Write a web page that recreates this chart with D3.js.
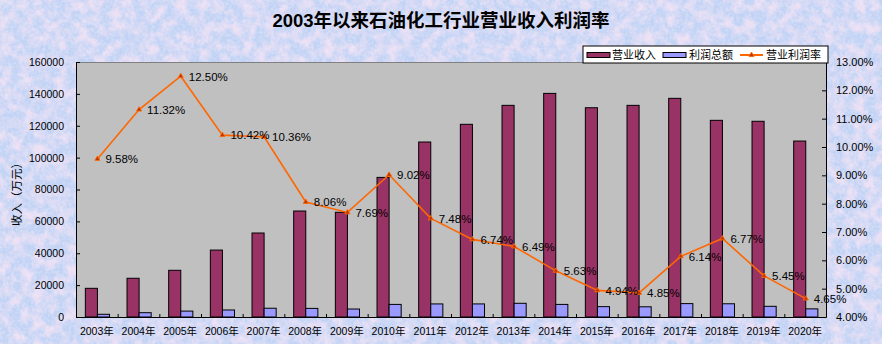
<!DOCTYPE html>
<html><head><meta charset="utf-8">
<script src="https://cdn.jsdelivr.net/npm/d3@7/dist/d3.min.js"></script>
<style>
html,body{margin:0;padding:0;background:#c6d6f4;}
svg{display:block;}
text{font-family:"Liberation Sans","Noto Sans CJK SC",Arial,sans-serif;}
</style></head>
<body>
<svg id="chart" width="882" height="344"></svg>
<script>
const years = ["2003年","2004年","2005年","2006年","2007年","2008年","2009年","2010年","2011年","2012年","2013年","2014年","2015年","2016年","2017年","2018年","2019年","2020年"];
const revenue = [18000,24300,29300,42000,52700,66500,65700,87600,109800,120900,132800,140300,131300,132800,137200,123400,122800,110400];
const profit = [1700,2700,3700,4400,5500,5400,5000,7900,8200,8200,8600,7900,6500,6400,8400,8300,6700,5100];
const rate = [9.58,11.32,12.50,10.42,10.36,8.06,7.69,9.02,7.48,6.74,6.49,5.63,4.94,4.85,6.14,6.77,5.45,4.65];
const leftTicks = [0,20000,40000,60000,80000,100000,120000,140000,160000];
const rightTicks = [4,5,6,7,8,9,10,11,12,13];
const seriesNames = ["营业收入","利润总额","营业利润率"];
const titleText = "2003年以来石油化工行业营业收入利润率";
const yTitle = "收入（万元）";

const svg = d3.select("#chart");
const W = 882, H = 344;
const P = {l:76, r:826, t:62, b:317};

// background texture
const defs = svg.append("defs");
const f = defs.append("filter").attr("id","tex").attr("x",0).attr("y",0).attr("width","100%").attr("height","100%");
f.append("feTurbulence").attr("type","fractalNoise").attr("baseFrequency","0.09").attr("numOctaves",3).attr("seed",7).attr("result","n");
f.append("feColorMatrix").attr("in","n").attr("type","matrix")
  .attr("values","0 0 0 0 0.85  0 0 0 0 0.74  0 0 0 0 0.90  2.4 0 0 0 -0.85");
const f2 = defs.append("filter").attr("id","tex2").attr("x",0).attr("y",0).attr("width","100%").attr("height","100%");
f2.append("feTurbulence").attr("type","fractalNoise").attr("baseFrequency","0.35").attr("numOctaves",2).attr("seed",3).attr("result","n");
f2.append("feColorMatrix").attr("in","n").attr("type","matrix")
  .attr("values","0 0 0 0 0.84  0 0 0 0 0.91  0 0 0 0 1  1.6 0 0 0 -0.6");
svg.append("rect").attr("width",W).attr("height",H).attr("fill","#c2d2f4");
svg.append("rect").attr("width",W).attr("height",H).attr("filter","url(#tex)");
svg.append("rect").attr("width",W).attr("height",H).attr("filter","url(#tex2)").attr("opacity",0.5);

// scales
const x = d3.scaleBand().domain(years).range([P.l,P.r]).padding(0);
const yL = d3.scaleLinear().domain([0,160000]).range([P.b,P.t]);
const yR = d3.scaleLinear().domain([4,13]).range([P.b,P.t]);

// plot area
svg.append("rect").attr("x",P.l).attr("y",P.t).attr("width",P.r-P.l).attr("height",P.b-P.t).attr("fill","#c0c0c0");
svg.append("line").attr("x1",P.l).attr("x2",P.r).attr("y1",P.t+0.5).attr("y2",P.t+0.5).attr("stroke","#808080");

// bars
const bw = x.bandwidth()*0.29;
const cx = d => x(d) + x.bandwidth()/2 + 0.6;
svg.append("g").selectAll("rect").data(years).join("rect")
  .attr("x",(d)=>cx(d)-bw).attr("width",bw)
  .attr("y",(d,i)=>yL(revenue[i])).attr("height",(d,i)=>P.b-yL(revenue[i]))
  .attr("fill","#993366").attr("stroke","#000").attr("stroke-width",1);
svg.append("g").selectAll("rect").data(years).join("rect")
  .attr("x",(d)=>cx(d)).attr("width",bw)
  .attr("y",(d,i)=>yL(profit[i])).attr("height",(d,i)=>P.b-yL(profit[i]))
  .attr("fill","#9999ff").attr("stroke","#000").attr("stroke-width",1);

// axes
const gL = svg.append("g").attr("transform",`translate(${P.l},0)`)
  .call(d3.axisLeft(yL).tickValues(leftTicks).tickFormat(d3.format("d")).tickSizeInner(-4).tickSizeOuter(0).tickPadding(12));
const gR = svg.append("g").attr("transform",`translate(${P.r},0)`)
  .call(d3.axisRight(yR).tickValues(rightTicks).tickFormat(d=>d.toFixed(2)+"%").tickSizeInner(-4).tickSizeOuter(0).tickPadding(10));
const gB = svg.append("g").attr("transform",`translate(0,${P.b})`)
  .call(d3.axisBottom(x).tickSize(0).tickPadding(11));
[gL,gR,gB].forEach(g=>{
  g.selectAll("text").attr("font-size","10.5px").attr("fill","#000").attr("font-family",'"Liberation Sans","Noto Sans CJK SC",sans-serif');
  g.selectAll("line").attr("stroke","#000");
  g.select(".domain").attr("stroke","#000");
});
gR.selectAll("text").attr("font-size","11px");
// category boundary ticks
svg.append("g").selectAll("line").data(years.slice(1)).join("line")
  .attr("x1",d=>x(d)+0.5).attr("x2",d=>x(d)+0.5).attr("y1",P.b).attr("y2",P.b-3).attr("stroke","#000");

// line
const line = d3.line().x((d,i)=>cx(years[i])).y(d=>yR(d));
svg.append("path").datum(rate).attr("d",line).attr("fill","none").attr("stroke","#ff6600").attr("stroke-width",1.6);
const tri = d3.symbol().type(d3.symbolTriangle).size(11);
svg.append("g").selectAll("path").data(rate).join("path")
  .attr("d",tri).attr("transform",(d,i)=>`translate(${cx(years[i])},${yR(d)})`)
  .attr("fill","#b83300").attr("stroke","#ff6600").attr("stroke-width",0.9);
svg.append("g").selectAll("text").data(rate).join("text")
  .attr("x",(d,i)=>cx(years[i])+8).attr("y",d=>yR(d)).attr("dy","0.38em")
  .attr("font-size","11.5px").attr("fill","#000")
  .text(d=>d.toFixed(2)+"%");

// title
svg.append("text").attr("x",441).attr("y",27).attr("text-anchor","middle")
  .attr("font-size","18.5px").attr("font-weight","bold").attr("fill","#000")
  .attr("font-family",'"Liberation Sans","Noto Sans CJK SC",sans-serif').text(titleText);

// y title
svg.append("text").attr("transform",`translate(17,${(P.t+P.b)/2+2}) rotate(-90)`).attr("text-anchor","middle")
  .attr("dy","0.35em").attr("font-size","11.5px").attr("fill","#000")
  .attr("font-family",'"Noto Sans CJK SC",sans-serif').text(yTitle);

// legend
const lg = svg.append("g");
lg.append("rect").attr("x",583).attr("y",46).attr("width",245).attr("height",17).attr("fill","#fff").attr("stroke","#000");
const lx = [587,663,740];
const tx = [612,689,766];
lg.append("rect").attr("x",lx[0]).attr("y",52.5).attr("width",23).attr("height",5).attr("fill","#993366").attr("stroke","#000");
lg.append("rect").attr("x",lx[1]).attr("y",52.5).attr("width",23).attr("height",5).attr("fill","#9999ff").attr("stroke","#000");
lg.append("line").attr("x1",lx[2]).attr("x2",lx[2]+23).attr("y1",55).attr("y2",55).attr("stroke","#ff6600").attr("stroke-width",2);
lg.append("path").attr("d",tri).attr("transform",`translate(${lx[2]+11.5},55)`).attr("fill","#b83300").attr("stroke","#ff6600").attr("stroke-width",0.9);
lg.selectAll("text.lt").data(seriesNames).join("text").attr("class","lt")
  .attr("x",(d,i)=>tx[i]).attr("y",55).attr("dy","0.36em").attr("font-size","11px").attr("fill","#000")
  .attr("font-family",'"Noto Sans CJK SC",sans-serif').text(d=>d);
</script>
</body></html>
